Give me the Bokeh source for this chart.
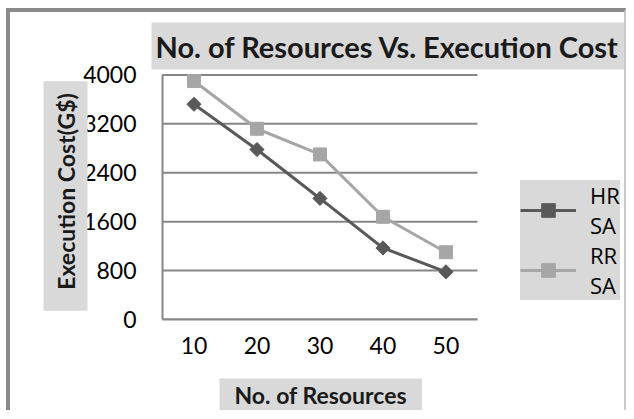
import numpy as np
from bokeh.plotting import figure
from bokeh.models import Title, Legend, LegendItem, ColumnDataSource
from bokeh.embed import file_html
from bokeh.resources import INLINE

resources = [10, 20, 30, 40, 50]
hr_sa = [3520, 2780, 1980, 1170, 780]
rr_sa = [3900, 3120, 2700, 1680, 1100]
y_ticks = [0, 800, 1600, 2400, 3200, 4000]
x_bounds = (5, 55)

FONT = "Lato"
BOX = "#d9d9d9"
GRID = "#868686"
HR_C = "#595959"
RR_C = "#a6a6a6"

p = figure(width=620, height=402, x_range=(5, 79.3), y_range=(0, 4040),
           output_backend="svg", toolbar_location=None,
           min_border_left=152, min_border_right=0,
           min_border_top=60, min_border_bottom=95)
p.outline_line_color = None
p.background_fill_color = "white"
p.border_fill_color = "white"
p.xgrid.grid_line_color = None
p.ygrid.grid_line_color = None

# horizontal gridlines limited to the plotted category span
p.segment(x0=[x_bounds[0]] * len(y_ticks), x1=[x_bounds[1]] * len(y_ticks),
          y0=y_ticks, y1=y_ticks, line_color=GRID, line_width=2)

src = ColumnDataSource(dict(x=resources, hr=hr_sa, rr=rr_sa))
l1 = p.line("x", "hr", source=src, line_color=HR_C, line_width=3)
m1 = p.scatter("x", "hr", source=src, marker="square", angle=np.pi / 4, size=10,
               fill_color=HR_C, line_color=HR_C)
l2 = p.line("x", "rr", source=src, line_color=RR_C, line_width=3)
m2 = p.scatter("x", "rr", source=src, marker="square", size=13,
               fill_color=RR_C, line_color=RR_C)

p.xaxis.ticker = resources
p.yaxis.ticker = y_ticks
p.xaxis.bounds = x_bounds
p.yaxis.bounds = (y_ticks[0], y_ticks[-1])
for ax in (p.xaxis, p.yaxis):
    ax.axis_line_color = GRID
    ax.axis_line_width = 2
    ax.major_tick_line_color = None
    ax.minor_tick_line_color = None
    ax.major_tick_out = 0
    ax.major_tick_in = 0
    ax.major_label_text_font = FONT
    ax.major_label_text_font_size = "23px"
    ax.major_label_text_color = "black"
p.yaxis.axis_label_standoff = 0
p.yaxis.major_label_standoff = 26
p.xaxis.major_label_standoff = 17
# blank spacer label pushes the boxed x title down
p.xaxis.axis_label = " "
p.xaxis.axis_label_text_font_size = "12px"
p.xaxis.axis_label_standoff = 3

p.add_layout(Title(text="No. of Resources Vs. Execution Cost", align="left", offset=-11,
                   standoff=6, text_font=FONT, text_font_style="bold",
                   text_font_size="29px", text_color="#1a1a1a",
                   background_fill_color=BOX,
                   padding=dict(left=4, right=40, top=6, bottom=6)), "above")
p.add_layout(Title(text="Execution Cost(G$)", align="center", standoff=-14,
                   text_font=FONT, text_font_style="bold", text_font_size="23px",
                   text_color="#1a1a1a", background_fill_color=BOX,
                   padding=dict(left=21, right=12, top=8, bottom=8)), "left")
p.add_layout(Title(text="No. of Resources", align="left", offset=57, standoff=0,
                   text_font=FONT, text_font_style="bold", text_font_size="23px",
                   text_color="#1a1a1a", background_fill_color=BOX,
                   padding=dict(left=15, right=15, top=2, bottom=2)), "below")

legend = Legend(items=[LegendItem(label="HR\nSA", renderers=[l1, m1]),
                       LegendItem(label="RR\nSA", renderers=[l2, m2])],
                location=(358, 19), orientation="vertical",
                background_fill_color=BOX, background_fill_alpha=1,
                border_line_color=None, label_text_font="Open Sans",
                label_text_font_size="22px", label_text_color="black",
                glyph_width=56, glyph_height=34, label_standoff=14,
                padding=4, spacing=0, margin=0)
p.add_layout(legend, "center")

p.styles = {"border-left": "4px solid #8a8a8a", "border-top": "4px solid #8a8a8a",
            "border-right": "2px solid #c8c8c8",
            "margin-left": "6px", "margin-top": "8px"}

open("out.html", "w").write(file_html(p, INLINE))
